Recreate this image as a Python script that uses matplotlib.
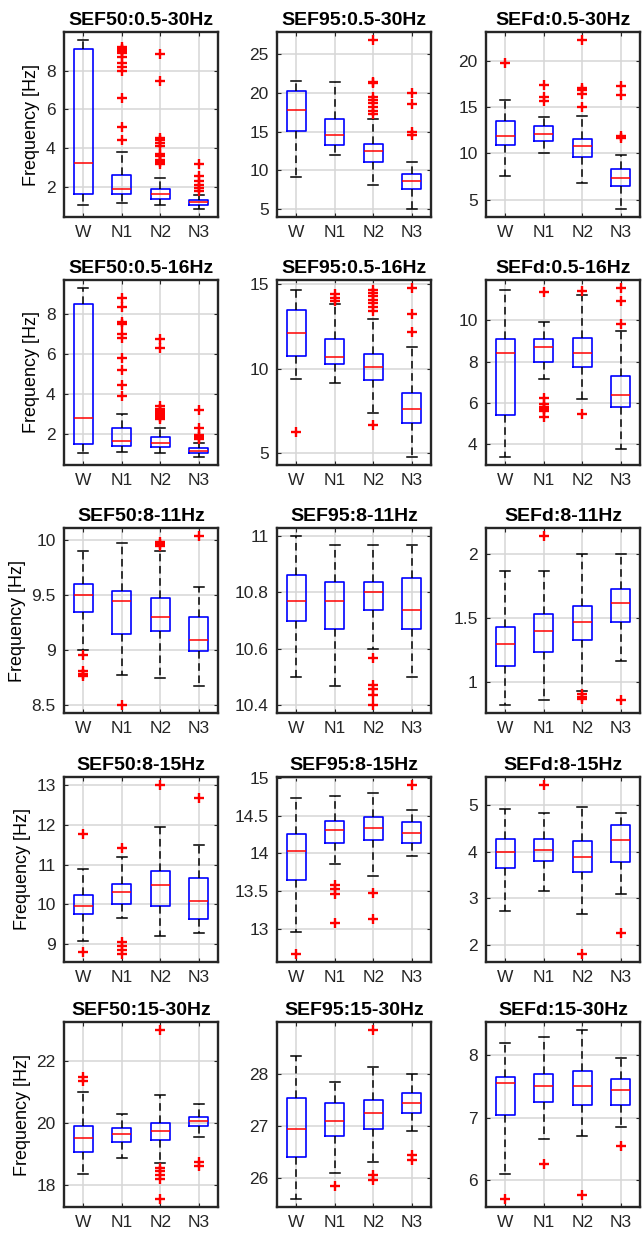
import matplotlib.pyplot as plt

plt.rcParams['font.family'] = ['Liberation Sans', 'DejaVu Sans']

groups = ['W', 'N1', 'N2', 'N3']

# box stats per stage: (low whisker, q1, median, q3, high whisker)
sef50_05_30 = [(1.06, 1.66, 3.25, 9.12, 9.55), (1.19, 1.62, 1.9, 2.62, 3.8),
               (1.06, 1.37, 1.66, 1.88, 2.46), (0.89, 1.09, 1.23, 1.35, 1.57)]
sef50_05_30_out = [[], [4.4, 5.1, 6.6, 8.0, 8.2, 8.4, 8.7, 8.9, 9.0, 9.05, 9.1, 9.2],
                   [3.2, 3.3, 3.4, 3.6, 3.7, 4.1, 4.25, 4.4, 4.5, 7.45, 8.85],
                   [1.8, 1.95, 2.1, 2.3, 2.55, 3.2]]
sef95_05_30 = [(9.2, 15.1, 17.7, 20.2, 21.5), (12.0, 13.3, 14.6, 16.6, 21.3),
               (8.1, 11.1, 12.5, 13.4, 16.6), (5.1, 7.6, 8.6, 9.5, 11.1)]
sef95_05_30_out = [[], [], [17.2, 17.6, 18.1, 18.6, 19.0, 19.4, 21.2, 21.4, 26.7],
                   [14.5, 14.9, 18.5, 19.9]]
sefd_05_30 = [(7.5, 10.95, 11.9, 13.5, 15.75), (10.0, 11.3, 12.1, 13.0, 13.9),
              (6.8, 9.6, 10.8, 11.6, 14.0), (4.03, 6.47, 7.37, 8.26, 9.8)]
sefd_05_30_out = [[19.8], [15.6, 16.1, 17.4], [15.0, 16.4, 16.8, 17.1, 22.2],
                  [11.7, 11.9, 16.3, 17.3]]

sef50_05_16 = [(1.09, 1.52, 2.8, 8.48, 9.27), (1.14, 1.42, 1.67, 2.33, 3.0),
               (1.05, 1.35, 1.58, 1.85, 2.3), (0.89, 1.05, 1.17, 1.3, 1.58)]
sef50_05_16_out = [[], [3.9, 4.45, 5.2, 5.8, 6.8, 7.0, 7.5, 7.6, 8.35, 8.8],
                   [2.75, 2.85, 2.95, 3.05, 3.15, 3.25, 3.4, 6.3, 6.75],
                   [1.75, 1.85, 1.95, 2.3, 3.2]]
sef95_05_16 = [(9.39, 10.77, 12.09, 13.5, 14.65), (9.13, 10.28, 10.67, 11.75, 13.86),
               (7.38, 9.33, 10.12, 10.9, 12.93), (4.8, 6.79, 7.62, 8.54, 11.3)]
sef95_05_16_out = [[6.24], [14.0, 14.2, 14.4],
                   [13.4, 13.65, 13.9, 14.1, 14.3, 14.5, 14.65, 6.7],
                   [12.18, 13.27, 14.76]]
sefd_05_16 = [(3.41, 5.41, 8.41, 9.1, 11.46), (7.18, 7.98, 8.7, 9.1, 9.9),
              (6.18, 7.74, 8.43, 9.15, 11.24), (3.76, 5.81, 6.38, 7.3, 9.46)]
sefd_05_16_out = [[], [11.35, 6.25, 5.95, 5.8, 5.7, 5.6, 5.3], [11.43, 5.46],
                  [9.83, 10.92, 11.54]]

sef50_8_11 = [(9.0, 9.34, 9.5, 9.6, 9.9), (8.77, 9.14, 9.44, 9.53, 9.97),
              (8.74, 9.17, 9.3, 9.47, 9.9), (8.67, 8.99, 9.09, 9.3, 9.57)]
sef50_8_11_out = [[8.95, 8.81, 8.78, 8.76], [8.5], [9.94, 9.96, 9.98], [10.03]]
sef95_8_11 = [(10.5, 10.7, 10.768, 10.862, 11.0), (10.466, 10.668, 10.768, 10.836, 10.969),
              (10.6, 10.737, 10.802, 10.836, 10.97), (10.5, 10.668, 10.737, 10.85, 10.97)]
sef95_8_11_out = [[], [], [10.567, 10.47, 10.455, 10.435, 10.40], []]
sefd_8_11 = [(0.826, 1.13, 1.298, 1.43, 1.868), (0.86, 1.233, 1.396, 1.534, 1.868),
             (0.93, 1.33, 1.466, 1.596, 1.997), (1.168, 1.466, 1.617, 1.728, 2.0)]
sefd_8_11_out = [[], [2.135], [0.91, 0.885, 0.87], [0.865]]

sef50_8_15 = [(9.08, 9.77, 9.95, 10.23, 10.89), (9.67, 10.0, 10.31, 10.51, 11.18),
              (9.21, 9.96, 10.48, 10.83, 11.93), (9.29, 9.63, 10.09, 10.65, 11.49)]
sef50_8_15_out = [[11.77, 8.82], [11.41, 9.07, 8.97, 8.87, 8.77], [12.98], [12.67]]
sef95_8_15 = [(12.96, 13.65, 14.03, 14.26, 14.73), (13.86, 14.13, 14.31, 14.43, 14.76),
              (13.7, 14.17, 14.33, 14.48, 14.8), (13.97, 14.14, 14.27, 14.42, 14.57)]
sef95_8_15_out = [[12.67], [13.58, 13.52, 13.46, 13.08], [13.47, 13.13], [14.9]]
sefd_8_15 = [(2.73, 3.65, 4.0, 4.27, 4.91), (3.16, 3.81, 4.04, 4.27, 4.82),
             (2.66, 3.56, 3.88, 4.23, 4.96), (3.1, 3.79, 4.25, 4.57, 4.82)]
sefd_8_15_out = [[], [5.42], [1.82], [2.26]]

sef50_15_30 = [(18.35, 19.05, 19.5, 19.9, 21.0), (18.85, 19.4, 19.65, 19.85, 20.3),
               (18.7, 19.45, 19.75, 20.0, 20.9), (19.55, 19.9, 20.05, 20.2, 20.6)]
sef50_15_30_out = [[21.35, 21.5], [], [23.0, 18.55, 18.45, 18.3, 18.2, 17.55], [18.75, 18.6]]
sef95_15_30 = [(25.6, 26.4, 26.95, 27.55, 28.35), (26.1, 26.8, 27.1, 27.45, 27.85),
               (26.3, 26.95, 27.25, 27.5, 28.15), (26.9, 27.25, 27.45, 27.65, 28.0)]
sef95_15_30_out = [[], [25.85], [28.85, 26.05, 25.95], [26.45, 26.35]]
sefd_15_30 = [(6.1, 7.05, 7.55, 7.65, 8.2), (6.65, 7.25, 7.5, 7.7, 8.3),
              (6.7, 7.2, 7.5, 7.75, 8.4), (6.85, 7.2, 7.45, 7.62, 7.95)]
sefd_15_30_out = [[5.7], [6.25], [5.75], [6.55]]

panels = [
    ('SEF50:0.5-30Hz', sef50_05_30, sef50_05_30_out, [2, 4, 6, 8]),
    ('SEF95:0.5-30Hz', sef95_05_30, sef95_05_30_out, [5, 10, 15, 20, 25]),
    ('SEFd:0.5-30Hz', sefd_05_30, sefd_05_30_out, [5, 10, 15, 20]),
    ('SEF50:0.5-16Hz', sef50_05_16, sef50_05_16_out, [2, 4, 6, 8]),
    ('SEF95:0.5-16Hz', sef95_05_16, sef95_05_16_out, [5, 10, 15]),
    ('SEFd:0.5-16Hz', sefd_05_16, sefd_05_16_out, [4, 6, 8, 10]),
    ('SEF50:8-11Hz', sef50_8_11, sef50_8_11_out, [8.5, 9, 9.5, 10]),
    ('SEF95:8-11Hz', sef95_8_11, sef95_8_11_out, [10.4, 10.6, 10.8, 11]),
    ('SEFd:8-11Hz', sefd_8_11, sefd_8_11_out, [1, 1.5, 2]),
    ('SEF50:8-15Hz', sef50_8_15, sef50_8_15_out, [9, 10, 11, 12, 13]),
    ('SEF95:8-15Hz', sef95_8_15, sef95_8_15_out, [13, 13.5, 14, 14.5, 15]),
    ('SEFd:8-15Hz', sefd_8_15, sefd_8_15_out, [2, 3, 4, 5]),
    ('SEF50:15-30Hz', sef50_15_30, sef50_15_30_out, [18, 20, 22]),
    ('SEF95:15-30Hz', sef95_15_30, sef95_15_30_out, [26, 27, 28]),
    ('SEFd:15-30Hz', sefd_15_30, sefd_15_30_out, [6, 7, 8]),
]

W, H = 642, 1241
fig = plt.figure(figsize=(W / 100, H / 100), dpi=100)

col_left = [64, 277, 486]
row_top = [32, 280, 528, 777, 1022]
ax_w, ax_h = 154, 185

for i, (title, stats, outliers, yticks) in enumerate(panels):
    r, c = divmod(i, 3)
    ax = fig.add_axes([col_left[c] / W, 1 - (row_top[r] + ax_h) / H, ax_w / W, ax_h / H])

    bstats = [dict(whislo=s[0], q1=s[1], med=s[2], q3=s[3], whishi=s[4], fliers=o, label=g)
              for s, o, g in zip(stats, outliers, groups)]
    ax.bxp(bstats, widths=0.5, capwidths=0.25,
           boxprops=dict(color='blue', lw=1.2),
           medianprops=dict(color='red', lw=1.1),
           whiskerprops=dict(color='black', lw=1.1, ls=(0, (5, 3))),
           capprops=dict(color='black', lw=1.1),
           flierprops=dict(marker='+', markeredgecolor='red', markersize=7, markeredgewidth=1.7))

    # MATLAB-like y range: data extent padded by 5%
    vals = [v for s in stats for v in s] + [v for o in outliers for v in o]
    lo, hi = min(vals), max(vals)
    pad = 0.05 * (hi - lo)
    ax.set_ylim(lo - pad, hi + pad)
    ax.set_xlim(0.5, 4.5)
    ax.set_yticks(yticks)
    ax.set_yticklabels([f'{t:g}' for t in yticks])

    ax.grid(True, color='#d6d6d6', lw=1.1)
    ax.set_axisbelow(True)
    ax.tick_params(direction='in', length=3, width=0.8, labelsize=12.5, colors='#262626',
                   top=True, right=True, pad=6)
    for sp in ax.spines.values():
        sp.set_linewidth(1.7)
        sp.set_color('#262626')
    ax.set_title(title, fontsize=14, fontweight='bold', pad=5)
    if c == 0:
        ax.set_ylabel('Frequency [Hz]', fontsize=13)

fig.savefig('out.png', dpi=100)
